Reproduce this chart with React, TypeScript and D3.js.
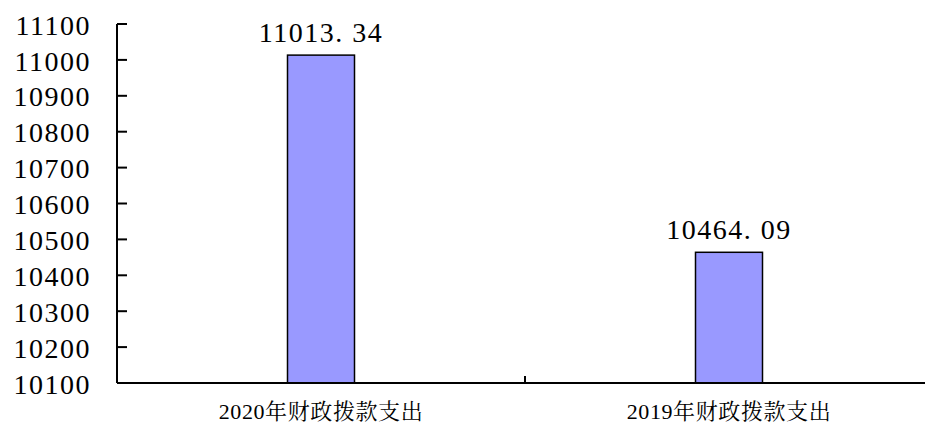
import React from "react";
import * as d3 from "d3";

const categories = ["2020年财政拨款支出", "2019年财政拨款支出"];
const values = [11013.34, 10464.09];
const yTicks = [10100, 10200, 10300, 10400, 10500, 10600, 10700, 10800, 10900, 11000, 11100];

export default function App() {
  const W = 925, H = 423;
  const left = 117, right = 933, top = 24, bottom = 383;
  const x = d3.scaleBand<string>().domain(categories).range([left, right]).paddingInner(0).paddingOuter(0);
  const y = d3.scaleLinear().domain([10100, 11100]).range([bottom, top]);
  const bw = 67;
  const font = "'Liberation Serif', 'Noto Serif CJK SC', serif";
  return (
    <svg width={W} height={H} style={{ position: "absolute", left: 0, top: 0, background: "#fff" }}>
      {categories.map((c, i) => {
        const cx = (x(c) as number) + x.bandwidth() / 2;
        return (
          <g key={c}>
            <rect x={cx - bw / 2} y={y(values[i])} width={bw} height={bottom - y(values[i])}
              fill="#9999FF" stroke="#000" strokeWidth={1.5} />
            <text x={cx} y={y(values[i]) - 13} textAnchor="middle" fontFamily={font} fontSize={28} letterSpacing={1.5}>
              {values[i].toFixed(2).replace(".", ". ")}
            </text>
            <text x={cx} y={419} textAnchor="middle" fontFamily={font} fontSize={22} letterSpacing={0.6}>{c}</text>
          </g>
        );
      })}
      <line x1={left} x2={left} y1={top} y2={bottom} stroke="#000" strokeWidth={2} />
      {yTicks.map((t) => (
        <g key={t}>
          <line x1={left} x2={left + 10} y1={y(t)} y2={y(t)} stroke="#000" strokeWidth={2} />
          <text x={91} y={y(t)} dy="0.38em" textAnchor="end" fontFamily={font} fontSize={28} letterSpacing={1.5}>{t}</text>
        </g>
      ))}
      <line x1={left} x2={right} y1={bottom} y2={bottom} stroke="#000" strokeWidth={2} />
      {categories.slice(1).map((c) => (
        <line key={c} x1={x(c) as number} x2={x(c) as number} y1={bottom} y2={bottom - 7} stroke="#000" strokeWidth={2} />
      ))}
    </svg>
  );
}
